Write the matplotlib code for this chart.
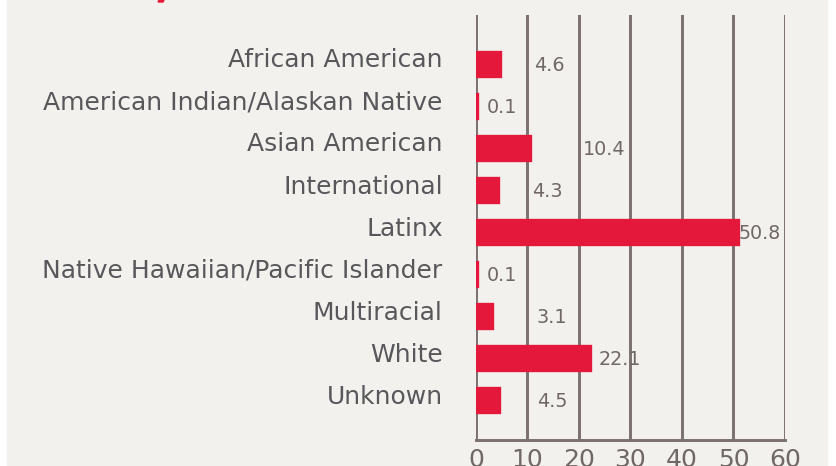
import matplotlib
matplotlib.use("Agg")
import matplotlib.pyplot as plt
from matplotlib.patches import Rectangle, Polygon
from matplotlib.transforms import ScaledTranslation

# dane
kategorie = ["African American", "American Indian/Alaskan Native", "Asian American",
             "International", "Latinx", "Native Hawaiian/Pacific Islander",
             "Multiracial", "White", "Unknown"]
wartosci = [4.6, 0.1, 10.4, 4.3, 50.8, 0.1, 3.1, 22.1, 4.5]
etykiety = ["4.6", "0.1", "10.4", "4.3", "50.8", "0.1", "3.1", "22.1", "4.5"]
# polozenie etykiet wartosci (jednostki osi x)
etykiety_x = [11.3, 2.1, 20.8, 10.9, 50.9, 2.1, 11.8, 23.9, 11.8]
ticki = [0, 10, 20, 30, 40, 50, 60]

czerwony = "#e4183a"
tlo = "#f2f1ee"
siatka = "#7a716e"
szary_txt = "#58585a"
szary_wart = "#6f6865"

fig = plt.figure(figsize=(8.37, 4.66), dpi=100, facecolor="white")
fig.patches.append(Rectangle((7 / 837, 1 / 466), 820 / 837, 465 / 466,
                             transform=fig.transFigure, color=tlo, zorder=-10))
# kawalek tytulu uciety u gory
fig.patches.append(Polygon([(158 / 837, 1 - 2 / 466), (163 / 837, 1 - 2 / 466),
                            (164 / 837, 1.0), (159 / 837, 1.0)],
                           transform=fig.transFigure, color=czerwony, zorder=-5))

ax = fig.add_axes([476 / 837, 26 / 466, 309 / 837, 425 / 466])
ax.set_facecolor("none")

# siatka pionowa pod slupkami
for t in ticki:
    ax.axvline(t, color=siatka, lw=2.1, zorder=1)

y = list(range(len(kategorie)))
ax.barh(y, wartosci, height=0.57, color=czerwony, edgecolor=czerwony,
        linewidth=2.4, zorder=3)

for i in range(len(kategorie)):
    ax.text(etykiety_x[i], y[i] + 0.03, etykiety[i], va="center", ha="left",
            fontsize=13.8, color=szary_wart, zorder=4)

ax.set_xlim(0, 60)
ax.set_ylim(8.94, -1.16)
ax.set_xticks(ticki)
ax.set_xticklabels([str(t) for t in ticki], fontsize=18, color=szary_wart)
ax.set_yticks(y)
ax.set_yticklabels(kategorie, fontsize=18, color=szary_txt)
ax.tick_params(axis="both", length=0)
ax.tick_params(axis="x", pad=6)
ax.tick_params(axis="y", pad=24)

# etykiety kategorii lekko nad slupkami
przes = ScaledTranslation(0, 6 / 100, fig.dpi_scale_trans)
for lab in ax.get_yticklabels():
    lab.set_transform(lab.get_transform() + przes)

for s in ["top", "right", "left"]:
    ax.spines[s].set_visible(False)
ax.spines["bottom"].set_color(siatka)
ax.spines["bottom"].set_linewidth(2.1)

fig.savefig("out.png", dpi=100, facecolor=fig.get_facecolor())
